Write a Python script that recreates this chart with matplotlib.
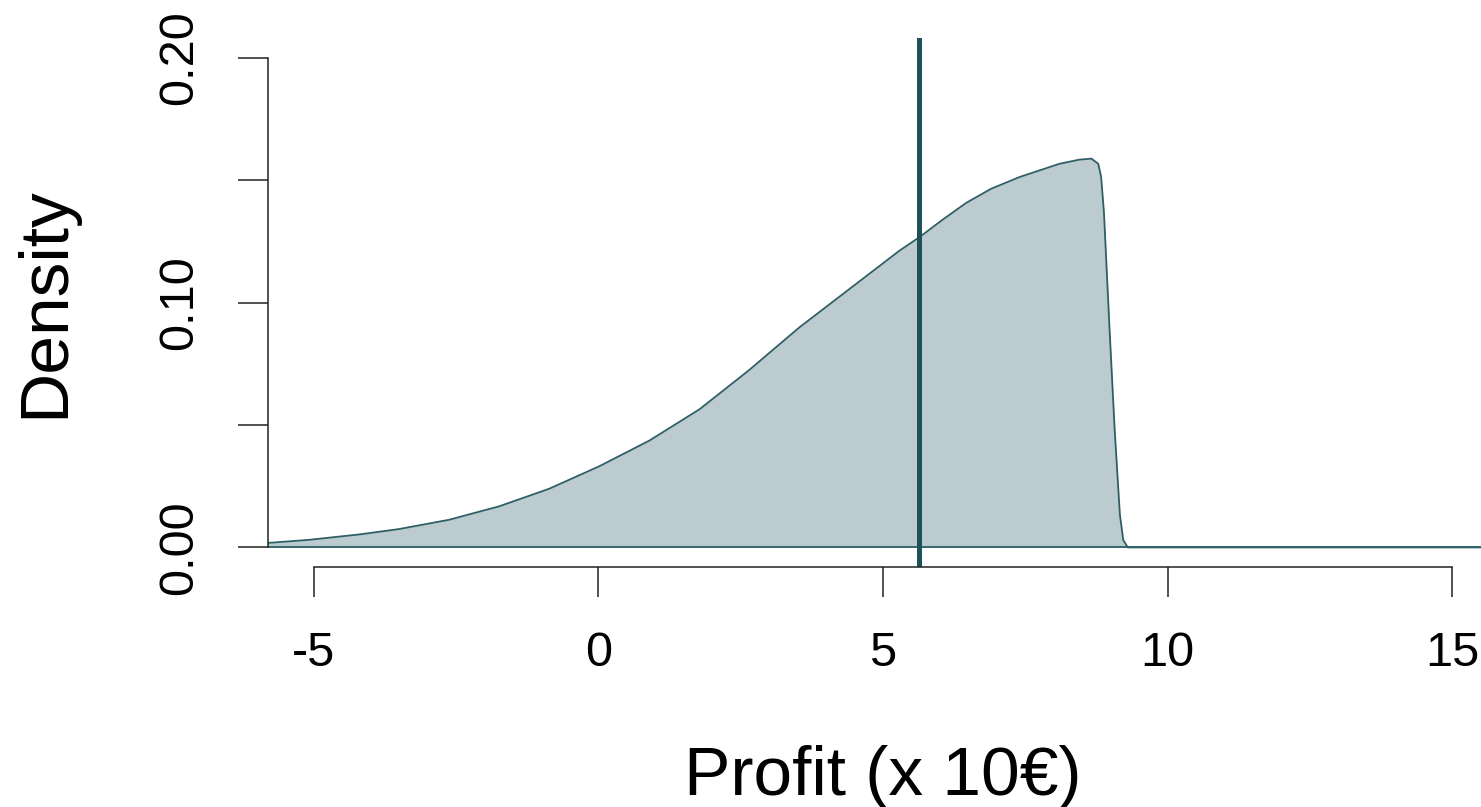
import matplotlib
matplotlib.use("Agg")
import matplotlib.pyplot as plt

plt.rcParams['font.family'] = ['Liberation Sans', 'DejaVu Sans']

# density curve (profit in units of 10 EUR)
profit = [-5.82, -5.08, -4.2, -3.5, -2.62, -1.74, -0.86, 0.02, 0.90, 1.78, 2.65,
          3.53, 4.41, 5.29, 5.64, 6.05, 6.46, 6.90, 7.40, 7.75, 8.10, 8.45,
          8.66, 8.78, 8.83, 8.88, 8.98, 9.07, 9.16, 9.22, 9.30, 15.8]
density = [0.0018, 0.0031, 0.0053, 0.0075, 0.0113, 0.0168, 0.0240, 0.0332, 0.0437,
           0.0565, 0.0725, 0.0899, 0.1056, 0.1213, 0.1268, 0.134, 0.1408, 0.1466,
           0.1514, 0.1541, 0.1568, 0.1585, 0.1589, 0.1568, 0.1515, 0.137, 0.0885,
           0.0475, 0.0134, 0.003, 0.0, 0.0]
mean_profit = 5.64

x_ticks = [-5, 0, 5, 10, 15]
y_ticks = [0.00, 0.05, 0.10, 0.15, 0.20]
y_labels = ["0.00", "", "0.10", "", "0.20"]

W, H = 1481, 807
fig = plt.figure(figsize=(W / 100, H / 100), dpi=100)
ax = fig.add_axes([268 / W, (H - 567) / H, 1230 / W, 528.5 / H])

line_col = "#2e5f66"
ax.fill_between(profit, density, 0, color="#bccbcf", linewidth=0)
ax.plot(profit, density, color=line_col, linewidth=1.3, solid_joinstyle="round")
ax.plot([-5.8, 15.8], [0, 0], color=line_col, linewidth=1.3)
ax.axvline(mean_profit, color="#1e5159", linewidth=3.6)

ax.set_xlim(-5.8, 15.8)
ax.set_ylim(-0.008, 0.208)

for s in ["top", "right"]:
    ax.spines[s].set_visible(False)
ax.spines["left"].set_bounds(0, 0.2)
ax.spines["bottom"].set_bounds(-5, 15)
for s in ["left", "bottom"]:
    ax.spines[s].set_linewidth(1.1)
    ax.spines[s].set_color("#222222")

ax.set_xticks(x_ticks)
ax.set_xticklabels([str(v) for v in x_ticks])
ax.set_yticks(y_ticks)
ax.set_yticklabels(y_labels, rotation=90, va="center")
ax.tick_params(axis="both", length=21.6, width=1.1, color="#222222", labelsize=35)
ax.tick_params(axis="x", pad=24.5)
ax.tick_params(axis="y", pad=26)

fig.text(883 / W, (H - 795) / H, "Profit (x 10€)", fontsize=50, ha="center", va="baseline")
fig.text(45 / W, (H - 302) / H, "Density", fontsize=50, rotation=90, ha="center", va="center")

fig.savefig("out.png", dpi=100)
